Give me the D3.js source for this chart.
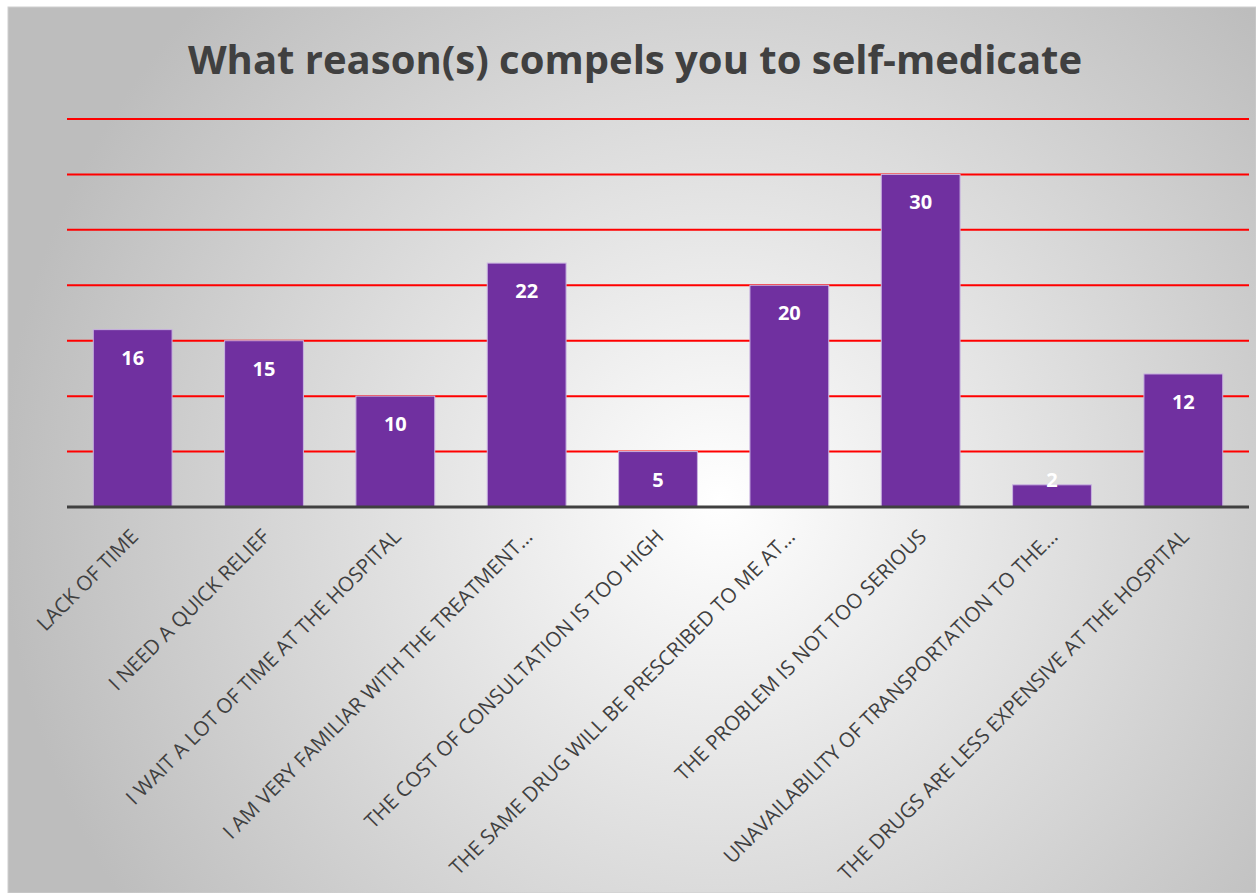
<!DOCTYPE html>
<html>
<head>
<meta charset="utf-8">
<script src="https://cdn.jsdelivr.net/npm/d3@7"></script>
<style>
  html, body { margin: 0; padding: 0; background: #fff; }
  svg { display: block; }
</style>
</head>
<body>
<div id="chart"></div>
<script>
// 데이터
const categories = [
  'LACK OF TIME',
  'I NEED A QUICK RELIEF',
  'I WAIT A LOT OF TIME AT THE HOSPITAL',
  'I AM VERY FAMILIAR WITH THE TREATMENT…',
  'THE COST OF CONSULTATION IS TOO HIGH',
  'THE SAME DRUG WILL BE PRESCRIBED TO ME AT…',
  'THE PROBLEM IS NOT TOO SERIOUS',
  'UNAVAILABILITY OF TRANSPORTATION TO THE…',
  'THE DRUGS ARE LESS EXPENSIVE AT THE HOSPITAL'
];
const counts = [16, 15, 10, 22, 5, 20, 30, 2, 12];
const gridTicks = [5, 10, 15, 20, 25, 30, 35];
const title = 'What reason(s) compels you to self-medicate';

const W = 1256, H = 893;
const plot = { left: 67, right: 1249, top: 119, bottom: 507 };

const svg = d3.select('#chart').append('svg')
  .attr('width', W).attr('height', H);

// 배경 그라디언트
const defs = svg.append('defs');
const grad = defs.append('radialGradient')
  .attr('id', 'bg')
  .attr('gradientUnits', 'userSpaceOnUse')
  .attr('cx', 720).attr('cy', 500).attr('r', 720);
grad.append('stop').attr('offset', '0%').attr('stop-color', '#ffffff');
grad.append('stop').attr('offset', '100%').attr('stop-color', '#bdbdbd');

svg.append('rect')
  .attr('x', 8).attr('y', 7).attr('width', W - 8).attr('height', H - 7)
  .attr('fill', 'url(#bg)')
  .attr('stroke', '#cfcfcf').attr('stroke-width', 1);

const x = d3.scaleBand()
  .domain(categories)
  .range([plot.left, plot.right])
  .paddingInner(0.4)
  .paddingOuter(0.2);

const y = d3.scaleLinear()
  .domain([0, 35])
  .range([plot.bottom, plot.top]);

// 그리드 라인 (빨간색)
svg.append('g')
  .selectAll('line')
  .data(gridTicks)
  .join('line')
  .attr('x1', plot.left).attr('x2', plot.right)
  .attr('y1', d => y(d)).attr('y2', d => y(d))
  .attr('stroke', '#ff0000')
  .attr('stroke-width', 2);

// 막대
svg.append('g')
  .selectAll('rect')
  .data(counts)
  .join('rect')
  .attr('x', (d, i) => x(categories[i]))
  .attr('y', d => y(d))
  .attr('width', x.bandwidth())
  .attr('height', d => y(0) - y(d))
  .attr('fill', '#7030a0')
  .attr('stroke', '#c9b3e0')
  .attr('stroke-width', 1);

// 값 라벨
svg.append('g')
  .selectAll('text')
  .data(counts)
  .join('text')
  .attr('x', (d, i) => x(categories[i]) + x.bandwidth() / 2)
  .attr('y', d => Math.min(y(d) + 28, y(0) - 27))
  .attr('dy', '0.35em')
  .attr('text-anchor', 'middle')
  .style('font-family', '"Open Sans", sans-serif')
  .style('font-weight', 'bold')
  .style('font-size', '20px')
  .style('fill', '#ffffff')
  .text(d => d);

// 기준선
svg.append('line')
  .attr('x1', plot.left).attr('x2', plot.right)
  .attr('y1', y(0)).attr('y2', y(0))
  .attr('stroke', '#404040')
  .attr('stroke-width', 3);

// 카테고리 라벨 (-45도)
svg.append('g')
  .selectAll('text')
  .data(categories)
  .join('text')
  .attr('transform', d => `translate(${x(d) + x.bandwidth() / 2 + 7}, ${plot.bottom + 31}) rotate(-45)`)
  .attr('text-anchor', 'end')
  .style('font-family', '"Open Sans", sans-serif')
  .style('font-size', '20.5px')
  .style('fill', '#404040')
  .text(d => d);

// 제목
svg.append('text')
  .attr('x', 635).attr('y', 74)
  .attr('text-anchor', 'middle')
  .style('font-family', '"Open Sans", sans-serif')
  .style('font-weight', 'bold')
  .style('font-size', '40px')
  .style('fill', '#404040')
  .text(title);
</script>
</body>
</html>
